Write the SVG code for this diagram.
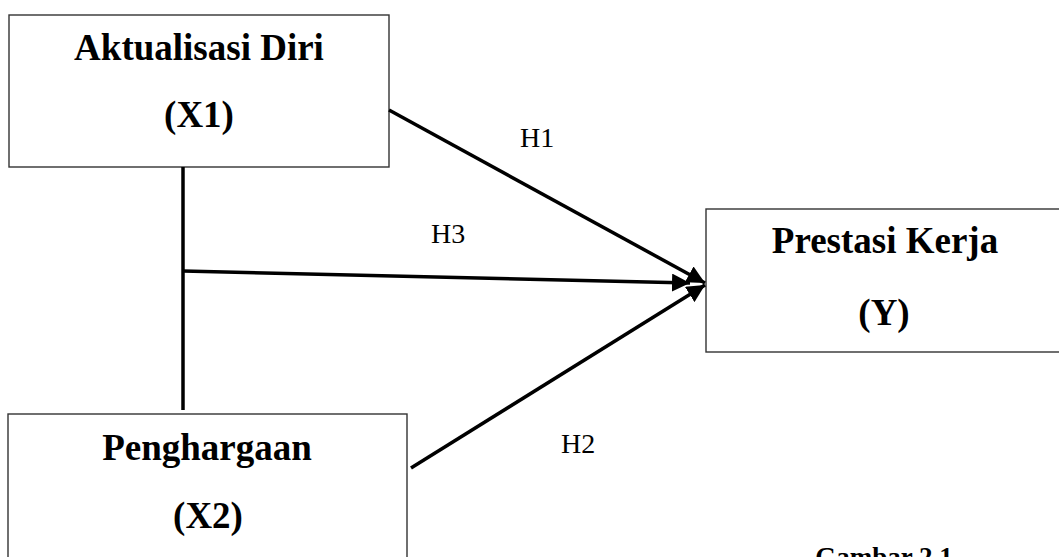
<svg xmlns="http://www.w3.org/2000/svg" width="1059" height="557" viewBox="0 0 1059 557">
<style>
.box{fill:#fff;stroke:#333;stroke-width:1.4}
.t{font-family:"Liberation Serif","Times New Roman",serif;font-weight:bold;font-size:37px;fill:#000;text-anchor:middle}
.lbl{font-family:"Liberation Serif","Times New Roman",serif;font-size:28px;fill:#000}
.ln{stroke:#000;stroke-width:3.5;fill:none}
</style>
<defs>
<marker id="ah" markerUnits="userSpaceOnUse" markerWidth="20" markerHeight="18" refX="18" refY="9" orient="auto">
<path d="M0,0 L18,9 L0,18 Z" fill="#000"/>
</marker>
</defs>
<g id="x1">
<rect class="box" x="9" y="15" width="380" height="152"/>
<text class="t" x="199" y="60">Aktualisasi Diri</text>
<text class="t" x="199" y="127">(X1)</text>
</g>
<g id="y">
<rect class="box" x="706" y="209" width="360" height="143"/>
<text class="t" x="885" y="253">Prestasi Kerja</text>
<text class="t" x="884" y="325">(Y)</text>
</g>
<g id="x2">
<rect class="box" x="8" y="414" width="399" height="160"/>
<text class="t" x="207" y="460">Penghargaan</text>
<text class="t" x="208" y="528">(X2)</text>
</g>
<g id="connectors">
<line class="ln" x1="183" y1="167" x2="183" y2="410"/>
<line class="ln" x1="183" y1="271" x2="690" y2="283" marker-end="url(#ah)"/>
<line class="ln" x1="389" y1="110" x2="705" y2="283" marker-end="url(#ah)"/>
<line class="ln" x1="411" y1="468" x2="705" y2="285" marker-end="url(#ah)"/>
</g>
<g id="labels">
<text class="lbl" x="520" y="147">H1</text>
<text class="lbl" x="431" y="243">H3</text>
<text class="lbl" x="561" y="453">H2</text>
<text class="t" x="884" y="566" style="font-size:27px">Gambar 2.1</text>
</g>
</svg>
